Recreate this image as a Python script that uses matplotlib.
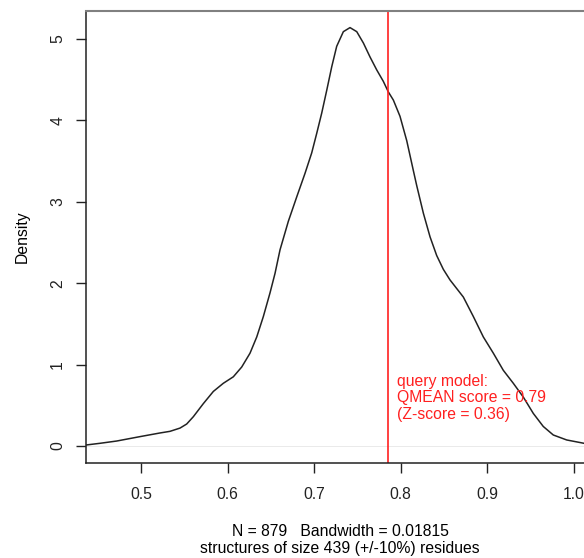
import matplotlib
matplotlib.use("Agg")
import matplotlib.pyplot as plt

plt.rcParams['font.family'] = ['Liberation Sans', 'DejaVu Sans']

# density curve
score = [0.4364, 0.4526, 0.4719, 0.4988, 0.522, 0.5335, 0.5451, 0.5528, 0.5605,
         0.572, 0.5836, 0.5951, 0.6067, 0.6164, 0.626, 0.6338, 0.6414, 0.6491,
         0.6549, 0.6607, 0.6703, 0.68, 0.6896, 0.6973, 0.7031, 0.7089, 0.7147,
         0.7205, 0.7262, 0.7339, 0.7416, 0.7494, 0.7571, 0.7647, 0.7725, 0.7801,
         0.7859, 0.7917, 0.7994, 0.8072, 0.8149, 0.8187, 0.8264, 0.8341, 0.8418,
         0.8495, 0.8572, 0.8726, 0.8842, 0.8957, 0.9073, 0.9188, 0.9304, 0.942,
         0.9535, 0.965, 0.9766, 0.9921, 1.0121]
density = [0.012, 0.033, 0.061, 0.115, 0.160, 0.180, 0.220, 0.27, 0.36,
           0.52, 0.67, 0.77, 0.85, 0.97, 1.14, 1.34, 1.59, 1.88,
           2.12, 2.41, 2.76, 3.06, 3.35, 3.60, 3.84, 4.09, 4.37,
           4.66, 4.91, 5.09, 5.14, 5.09, 4.95, 4.78, 4.62, 4.48,
           4.35, 4.25, 4.05, 3.75, 3.38, 3.20, 2.86, 2.57, 2.34,
           2.17, 2.04, 1.83, 1.59, 1.34, 1.14, 0.93, 0.77, 0.60,
           0.40, 0.24, 0.135, 0.074, 0.033]
query_score = 0.786
x_ticks = [0.5, 0.6, 0.7, 0.8, 0.9, 1.0]
x_tick_labels = ["0.5", "0.6", "0.7", "0.8", "0.9", "1.0"]
y_ticks = [0, 1, 2, 3, 4, 5]

fs = 11.3
fig = plt.figure(figsize=(5.84, 5.58), dpi=100)
ax = fig.add_axes([86/584, 95/558, 1 - 86/584, 452/558])
ax.set_xlim(0.4364, 1.0121)
ax.set_ylim(-0.209, 5.344)

# zero line, density, query model line
ax.axhline(0, color='#e6e6e6', lw=0.6)
ax.plot(score, density, color='#222222', lw=1.1, solid_joinstyle='round')
ax.axvline(query_score, color='#ff2020', lw=1.2)

ax.text(0.7955, 0.59, "query model:\nQMEAN score = 0.79\n(Z-score = 0.36)",
        color='#ff2020', fontsize=fs, ha='left', va='center', linespacing=1.1)

ax.set_xticks(x_ticks)
ax.set_xticklabels(x_tick_labels)
ax.set_yticks(y_ticks)
ax.set_yticklabels([str(v) for v in y_ticks], rotation=90, va='center')
ax.tick_params(direction='out', length=7, width=1, labelsize=fs, pad=8, colors='#222222')
ax.tick_params(axis='x', pad=10)

ax.spines['right'].set_visible(False)
ax.spines['top'].set_color('#808080')
ax.spines['top'].set_linewidth(1.5)
for s in ['left', 'bottom']:
    ax.spines[s].set_color('#222222')
    ax.spines[s].set_linewidth(1.1)

fig.text(22/584, 1 - 237/558, "Density", rotation=90, fontsize=fs, ha='center', va='center')
fig.text(340/584, 1 - 531/558, "N = 879   Bandwidth = 0.01815", fontsize=fs, ha='center', va='center')
fig.text(340/584, 1 - 549/558, "structures of size 439 (+/-10%) residues", fontsize=fs, ha='center', va='center')

fig.savefig("out.png", dpi=100)
